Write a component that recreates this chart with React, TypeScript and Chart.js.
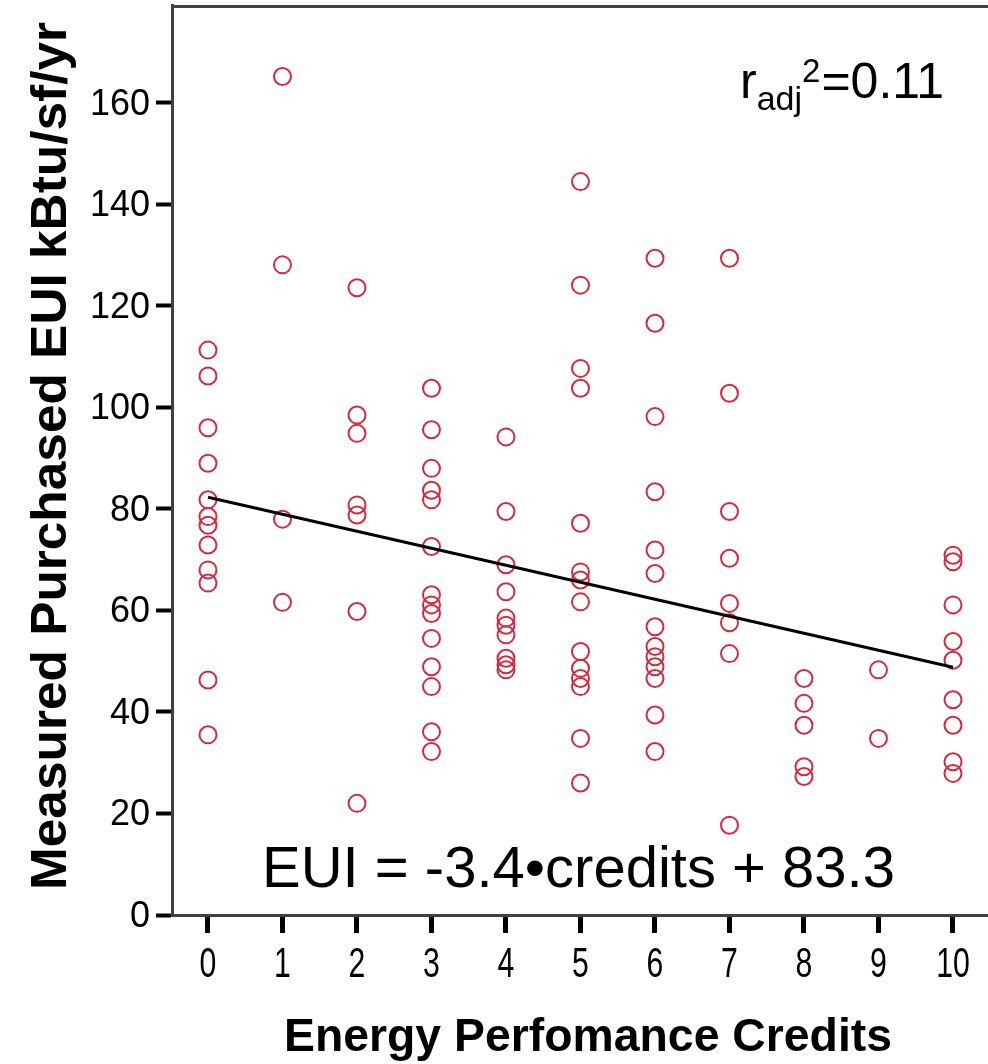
import React, { useEffect, useRef } from 'react';
import { Chart, registerables } from 'chart.js';

Chart.register(...registerables);

// ---- data ----
const credits = [0, 1, 2, 3, 4, 5, 6, 7, 8, 9, 10];
const eui0 = [111.3, 106.2, 96.0, 89.0, 81.8, 78.5, 76.8, 72.9, 68.0, 65.4, 46.3, 35.5];
const eui1 = [165.2, 128.1, 78.0, 61.6];
const eui2 = [123.6, 98.5, 94.9, 80.8, 78.8, 59.8, 22.0];
const eui3 = [103.8, 95.6, 88.0, 83.7, 81.8, 72.6, 63.1, 61.1, 59.4, 54.5, 48.9, 45.0, 36.1, 32.2];
const eui4 = [94.2, 79.5, 69.0, 63.7, 58.5, 57.1, 55.2, 50.6, 49.3, 48.3];
const eui5 = [144.5, 124.1, 107.7, 103.8, 77.2, 67.6, 66.0, 61.7, 51.9, 48.6, 46.6, 45.0, 34.8, 26.0];
const eui6 = [129.4, 116.6, 98.2, 83.4, 71.9, 67.3, 56.8, 52.9, 50.9, 48.9, 46.6, 39.4, 32.2];
const eui7 = [129.4, 102.8, 79.5, 70.3, 61.4, 57.6, 51.5, 17.7];
const eui8 = [46.6, 41.7, 37.4, 29.2, 27.3];
const eui9 = [48.3, 34.8];
const eui10 = [70.9, 69.6, 61.1, 53.9, 50.2, 42.4, 37.4, 30.2, 27.9];
const euiByCredit = [eui0, eui1, eui2, eui3, eui4, eui5, eui6, eui7, eui8, eui9, eui10];

const fitX = [0, 10];
const fitY = [82.3, 48.8];

const xTickValues = [0, 1, 2, 3, 4, 5, 6, 7, 8, 9, 10];
const xTickLabels = ['0', '1', '2', '3', '4', '5', '6', '7', '8', '9', '10'];
const yTickValues = [0, 20, 40, 60, 80, 100, 120, 140, 160];
const yTickLabels = ['0', '20', '40', '60', '80', '100', '120', '140', '160'];

const xTitle = 'Energy Perfomance Credits';
const yTitle = 'Measured Purchased EUI kBtu/sf/yr';
const equationText = 'EUI = -3.4•credits + 83.3';
const r2Base = 'r';
const r2Sub = 'adj';
const r2Sup = '2';
const r2Value = '=0.11';

const FONT = '"Liberation Sans", Arial, sans-serif';

const textPlugin = {
  id: 'customText',
  afterDraw(chart: any) {
    const ctx: CanvasRenderingContext2D = chart.ctx;
    const area = chart.chartArea;
    const xs = chart.scales.x;
    const ys = chart.scales.y;
    ctx.save();
    // top frame line
    ctx.strokeStyle = '#404040';
    ctx.lineWidth = 3;
    ctx.beginPath();
    ctx.moveTo(area.left - 1, area.top + 1.5);
    ctx.lineTo(area.right, area.top + 1.5);
    ctx.stroke();

    ctx.fillStyle = '#000';
    // y tick labels
    ctx.font = `36px ${FONT}`;
    ctx.textAlign = 'right';
    ctx.textBaseline = 'middle';
    yTickValues.forEach((v, i) => {
      const py = ys.getPixelForValue(v);
      ctx.fillText(yTickLabels[i], 150, py + 2);
    });
    // x tick labels (tall, condensed)
    ctx.font = `42px ${FONT}`;
    ctx.textAlign = 'center';
    ctx.textBaseline = 'alphabetic';
    xTickValues.forEach((v, i) => {
      const px = xs.getPixelForValue(v);
      ctx.save();
      ctx.translate(px, 977);
      ctx.scale(0.72, 1);
      ctx.fillText(xTickLabels[i], 0, 0);
      ctx.restore();
    });
    // x title
    ctx.font = `bold 46px ${FONT}`;
    let w = ctx.measureText(xTitle).width;
    ctx.save();
    ctx.translate(588, 1051);
    ctx.scale(608 / w, 1);
    ctx.textAlign = 'center';
    ctx.fillText(xTitle, 0, 0);
    ctx.restore();
    // y title
    ctx.font = `bold 50px ${FONT}`;
    w = ctx.measureText(yTitle).width;
    ctx.save();
    ctx.translate(66, 456);
    ctx.rotate(-Math.PI / 2);
    ctx.scale(868 / w, 1);
    ctx.textAlign = 'center';
    ctx.fillText(yTitle, 0, 0);
    ctx.restore();
    // equation
    ctx.font = `58px ${FONT}`;
    ctx.textAlign = 'left';
    w = ctx.measureText(equationText).width;
    ctx.save();
    ctx.translate(262, 887);
    ctx.scale(633 / w, 1);
    ctx.fillText(equationText, 0, 0);
    ctx.restore();
    // r_adj^2
    let x = 740;
    ctx.font = `50px ${FONT}`;
    ctx.fillText(r2Base, x, 98);
    x += ctx.measureText(r2Base).width;
    ctx.font = `34px ${FONT}`;
    ctx.fillText(r2Sub, x, 110);
    x += ctx.measureText(r2Sub).width;
    ctx.font = `33px ${FONT}`;
    ctx.fillText(r2Sup, x, 82);
    x += ctx.measureText(r2Sup).width + 1;
    ctx.font = `50px ${FONT}`;
    ctx.fillText(r2Value, x, 98);
    ctx.restore();
  },
};

export default function App() {
  const ref = useRef<HTMLCanvasElement>(null);
  useEffect(() => {
    document.body.style.margin = '0';
    document.body.style.background = '#fff';
    const points: { x: number; y: number }[] = [];
    credits.forEach((c, i) => euiByCredit[i].forEach((v) => points.push({ x: c, y: v })));
    const chart = new Chart(ref.current as HTMLCanvasElement, {
      type: 'scatter',
      data: {
        datasets: [
          {
            type: 'line',
            data: fitX.map((x, i) => ({ x, y: fitY[i] })),
            borderColor: '#000',
            borderWidth: 3,
            pointRadius: 0,
            showLine: true,
            fill: false,
          } as any,
          {
            data: points,
            pointStyle: 'circle',
            pointRadius: 8.5,
            borderWidth: 2,
            borderColor: '#d8283e',
            backgroundColor: 'rgba(0,0,0,0)',
            showLine: false,
          },
        ],
      },
      options: {
        responsive: false,
        devicePixelRatio: 1,
        animation: false,
        layout: { autoPadding: false, padding: { top: 5, right: 0, left: 0, bottom: 0 } },
        plugins: { legend: { display: false }, tooltip: { enabled: false } },
        scales: {
          x: {
            type: 'linear',
            position: 'bottom',
            min: -0.483,
            max: 10.47,
            afterBuildTicks: (s: any) => {
              s.ticks = xTickValues.map((v) => ({ value: v }));
            },
            afterFit: (s: any) => {
              s.height = 149;
            },
            ticks: { display: false },
            grid: { drawOnChartArea: false, drawTicks: true, tickLength: 18, tickWidth: 5, tickColor: '#000' },
            border: { display: true, color: '#404040', width: 3 },
          },
          y: {
            type: 'linear',
            position: 'left',
            min: 0,
            max: 179.3,
            afterBuildTicks: (s: any) => {
              s.ticks = yTickValues.map((v) => ({ value: v }));
            },
            afterFit: (s: any) => {
              s.width = 172;
            },
            ticks: { display: false },
            grid: { drawOnChartArea: false, drawTicks: true, tickLength: 16, tickWidth: 4, tickColor: '#000' },
            border: { display: true, color: '#404040', width: 3 },
          },
        },
      } as any,
      plugins: [textPlugin],
    });
    return () => chart.destroy();
  }, []);
  return <canvas ref={ref} width={988} height={1064} style={{ display: 'block' }} />;
}
